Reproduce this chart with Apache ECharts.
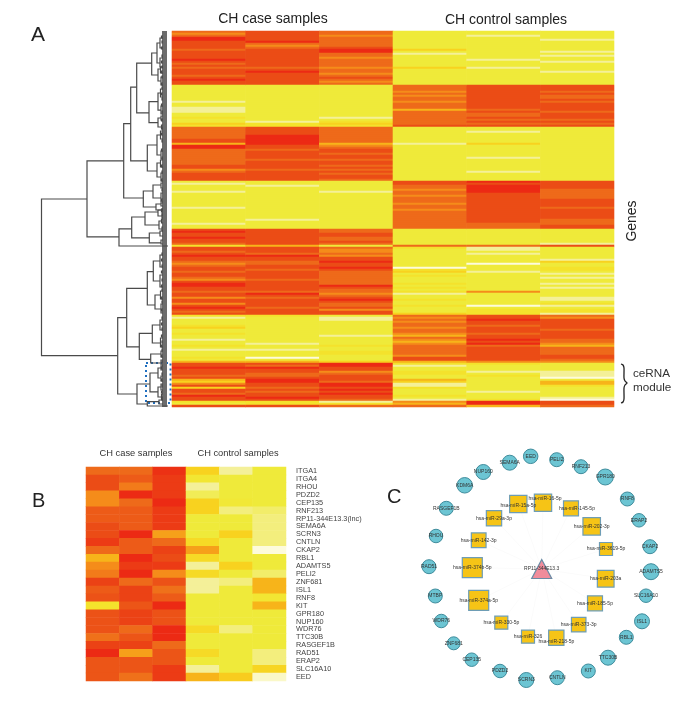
<!DOCTYPE html>
<html>
<head>
<meta charset="utf-8">
<style>
  html, body { margin: 0; padding: 0; background: #fff; }
  #chart { width: 700px; height: 702px; }
  /* the source figure is a soft scan */
  #chart canvas { filter: blur(0.35px); }
</style>
<script src="https://cdn.jsdelivr.net/npm/echarts@6/dist/echarts.min.js"></script>
</head>
<body>
<div id="chart"></div>
<script>
// expression levels 0 (palest) .. 9 (red), one value per gene row, top to bottom
const caseA1 = [7,6,7,9,9,8,8,8,8,7,8,8,8,8,9,8,7,8,7,8,8,8,7,8,9,8,8,
  2,2,2,2,2,2,2,2,1,2,2,1,1,1,2,2,3,2,2,4,3,
  7,7,7,7,7,7,8,8,5,9,9,7,7,7,7,7,7,7,7,8,8,6,7,8,8,8,8,
  2,1,2,2,2,1,2,2,2,2,2,2,2,1,2,2,2,2,2,2,2,1,2,2,
  8,9,8,8,9,8,8,7, 3,
  8,8,7,8,9,8,8,7,6,7,8,8,7,8,8,7,6,8,9,9,8,8,7,8,8,6,8,8,6,8,9,8,7,8,
  3,1,2,2,2,3,4,2,2,3,2,2,1,2,2,3,2,1,2,2,2,3,2,5,
  8,8,9,8,8,8,7,8,5,4,6,8,4,8,8,7,9,8,8,
  3,2,8]
const caseA2 = [8,8,8,8,8,9,7,6,7,8,8,8,8,8,8,8,8,8,7,8,9,8,8,8,8,8,8,
  2,2,2,2,2,2,2,2,2,2,2,2,2,2,2,2,2,2,1,3,3,
  8,8,8,8,9,9,9,9,9,8,8,7,8,8,8,8,7,8,8,8,8,7,8,8,8,8,8,
  2,2,1,2,2,2,2,2,2,2,2,2,2,2,2,2,2,2,2,1,2,2,2,2,
  8,8,8,8,8,8,8,8, 5,
  8,8,8,7,9,8,8,7,7,8,8,7,8,8,8,8,7,8,8,8,8,8,7,9,8,7,8,8,8,8,7,8,8,8,
  3,2,2,2,2,2,2,2,2,2,2,2,2,2,1,2,2,1,2,2,2,0,2,5,
  8,7,9,8,8,7,7,8,9,9,8,8,7,8,7,8,8,9,8,
  3,3,8]
const caseA3 = [7,7,6,7,7,7,7,7,8,9,9,7,7,6,7,7,7,7,6,7,7,6,7,8,7,6,7,
  2,2,2,2,2,2,2,2,2,2,2,2,2,2,2,2,1,2,3,4,3,
  7,7,7,7,7,7,7,7,5,6,7,8,8,7,8,8,7,8,8,7,8,7,8,7,8,8,7,
  2,2,2,2,2,1,2,2,2,2,2,2,2,2,2,2,2,2,2,2,2,2,2,2,
  7,7,8,8,7,7,8,7, 2,
  7,6,6,7,6,8,8,9,8,8,9,8,7,7,7,7,7,7,7,9,8,7,7,6,7,8,9,8,7,7,8,6,8,8,
  2,1,1,2,2,2,2,2,2,2,1,2,2,2,2,3,2,2,3,3,2,2,2,4,
  9,9,8,8,6,7,8,8,8,7,9,9,8,9,8,9,8,8,7,
  1,3,7]
const controlA1 = [2,2,2,2,2,2,2,2,2,4,2,1,2,2,2,2,2,2,4,2,2,2,2,2,2,2,2,
  7,7,7,6,7,6,7,7,6,7,7,7,5,7,7,7,7,7,7,7,8,
  2,2,2,2,2,2,2,2,1,2,2,2,2,2,2,2,2,2,2,2,2,2,2,2,2,2,2,
  8,8,7,7,6,7,7,6,7,7,7,6,7,7,6,7,7,7,7,7,7,7,7,7,
  2,2,2,2,2,2,2,2, 7,
  3,2,2,2,2,2,2,2,2,2,0,3,4,2,3,2,2,2,3,2,3,2,3,1,2,2,3,2,2,3,2,2,2,4,
  7,6,7,6,7,7,6,7,7,6,5,7,6,5,6,7,7,7,7,7,6,8,8,5,
  3,1,2,2,3,3,2,2,5,4,1,1,3,2,2,2,3,2,1,
  6,5,7]
const controlA2 = [2,2,1,2,2,2,2,2,2,2,2,2,2,2,1,2,2,2,1,2,2,2,2,2,2,2,2,
  8,8,8,8,8,8,8,8,8,8,8,8,7,8,7,7,8,7,8,7,8,
  2,2,1,2,2,2,2,2,4,2,2,2,2,2,2,1,2,2,2,2,2,2,1,2,2,2,2,
  9,8,9,9,9,9,8,8,8,8,8,8,8,8,8,8,8,8,8,8,8,7,7,7,
  2,2,2,2,2,2,2,2, 7,
  1,1,2,1,2,2,2,2,0,2,2,2,1,2,2,2,2,2,2,2,2,2,6,2,2,2,2,2,2,0,2,3,3,3,
  8,8,9,8,8,7,8,8,8,7,8,8,9,8,9,7,8,8,8,8,8,8,8,6,
  3,2,2,2,1,2,3,2,2,2,2,2,2,2,1,2,2,2,3,
  9,9,5]
const controlA3 = [2,2,2,2,1,2,2,2,2,2,1,2,1,2,2,1,2,2,2,2,1,2,2,2,2,2,2,
  8,8,8,7,8,7,7,8,7,8,8,8,8,7,8,8,8,7,8,7,8,
  2,2,2,2,2,2,2,2,2,2,2,2,2,2,2,2,2,2,2,2,2,2,2,2,2,2,2,
  8,8,8,8,7,7,7,7,7,8,8,8,8,7,8,8,8,8,8,7,7,7,8,8,
  2,2,2,2,2,2,2,1, 8,
  2,2,2,2,2,2,1,4,2,2,3,3,2,1,2,1,2,2,1,2,1,2,2,2,2,1,1,2,3,1,2,3,3,1,
  7,6,8,8,8,8,8,7,8,8,8,8,7,7,6,5,7,7,7,7,8,8,7,6,
  2,2,2,2,1,1,1,0,2,5,5,3,2,2,2,2,2,1,0,
  8,8,7]

// dendrogram merges: [height, rowA, childHeightA, rowB, childHeightB]
const dendroMerges = [
  [126.5,84,81,162.3,50.3],
  [81,64.9,44.3,102.9,49],
  [44.3,46.3,37.3,83.5,24.7],
  [37.3,28.1,31.3,64.9,20.7],
  [31.3,16.1,16.3,40.9,19],
  [16.3,11,11,22,10],
  [11,6,8,16,8],[10,19,7.5,25,7],
  [8,3.5,5,8.5,5],[8,13.5,5,18,5],[7.5,18,5,21,5],[7,23,5,27,5],
  [19,35.3,10,45.8,10],
  [10,31,7.5,39.6,7],[7.5,29,5,33,5],[7,37.5,5,41.5,5],
  [10,43.5,7,48,6.5],[7,42.5,5,44.5,5],[6.5,47,5,49,5],
  [20.7,57,11,70,11],
  [11,52,7.5,62,7],[7.5,50,5,54,5],[7,60,5,64,5],
  [11,66,7.5,73,7],[7.5,64.5,5,68,5],[7,71,5,75,5],
  [24.7,80,15,88,12],
  [15,77,7,83.5,7],[7,76,5,78.5,5],[7,81,5,85.5,5],
  [12,86.5,7,89.5,6],[7,86,5,87.5,5],[6,89,5,90,5],
  [49,98.9,36.3,107.5,26],
  [26,107.5,0,107.5,0],
  [36.3,93,23,103.4,18.7],
  [23,90.5,10,97,9],
  [10,89.5,6.5,92.5,6],[9,95,6.5,99,6],[6.5,89,5,90.5,5],[6,92,5,93.5,5],[6.5,94,5,96,5],[6,98,5,100,5],
  [18.7,101,8,105.9,7],
  [8,100,5,102.5,5],[7,104.5,5,106.5,5],
  [50.3,143.3,41.3,181.5,31],
  [41.3,128.7,20.7,157.9,28.7],
  [20.7,120.3,14.7,137,13],
  [14.7,115,8,125,8],[13,132,7.5,139,7],
  [8,112,5,118,5],[8,122,5,128,5],[7.5,130,5,134,5],[7,136.5,5,141,5],
  [28.7,151.2,15.7,164.2,17.3],
  [15.7,147,8,156,7.5],[17.3,161.5,7,166,7],
  [8,144.5,5,149.5,5],[7.5,153.5,5,158,5],[7,160,5,163,5],[7,164.5,5,167,5],
  [31,176.5,18,186.5,20.7],
  [18,171,10,180.4,10],[10,168.5,7,173.5,7],[10,178,7,183,6.5],
  [7,167.5,5,169.5,5],[7,172.5,5,175,5],[7,176.5,5,179.5,5],[6.5,181.5,5,184.5,5],
  [20.7,185.3,9,187.5,8],[9,184.5,5,186.5,5],[8,187.5,0,187.5,0],
  // smallest twigs close to the leaves
  [6.5,2.5,5,3.5,5],[6,5,5,6,5],[6.5,8,5,9,5],[6,12,5,13,5],[6.5,15,5,16,5],[6,17.5,5,18.5,5],[6.5,20,5,21,5],[6,22.5,5,23.5,5],[6.5,26,5,27,5],
  [6,28,5,29,5],[6.5,31,5,32,5],[6,33.5,5,34.5,5],[6.5,36.5,5,37.5,5],[6,40,5,41,5],[6.5,44,5,45,5],
  [6,48,5,49,5],[6.5,51,5,52,5],[6,54.5,5,55.5,5],[6.5,59,5,60,5],[6,63,5,64,5],[6.5,67,5,68,5],[6,70,5,71,5],[6.5,74,5,75,5],
  [6,79,5,80,5],[6.5,84,5,85,5],[6,91,5,92,5],
  [6,111,5,112,5],[6.5,114,5,115,5],[6,117,5,118,5],[6.5,120,5,121,5],[6,124,5,125,5],[6.5,127,5,128,5],[6,129,5,130,5],[6.5,133,5,134,5],[6,135,5,136,5],[6.5,139,5,140,5],
  [6,143,5,144,5],[6.5,146,5,147,5],[6,148.5,5,149.5,5],[6.5,152,5,153,5],[6,155,5,156,5],[6.5,157,5,158,5],[6,159,5,160,5],[6.5,162,5,163,5],[6,165,5,166,5],
  [6.5,168,5,169,5],[6,171,5,172,5],[6.5,174,5,175,5],[6,177,5,178,5],[6.5,180,5,181,5],[6,183,5,184,5]
]

// panel B
const moduleGenes = ['ITGA1','ITGA4','RHOU','PDZD2','CEP135','RNF213','RP11-344E13.3(lnc)','SEMA6A','SCRN3','CNTLN','CKAP2','RBL1','ADAMTS5','PELI2','ZNF681','ISL1','RNF8','KIT','GPR180','NUP160','WDR76','TTC30B','RASGEF1B','RAD51','ERAP2','SLC16A10','EED']
const caseB1 = [7,8,8,6,6,7.5,7.5,8,8,8.5,7,5,6,6.5,8.3,7.5,7.8,3,7.8,7.8,7.8,6.8,8.3,9.2,7.7,7.7,7.7]
const caseB2 = [7,7.5,6.5,9,7,7.5,7.5,7.5,9,7.5,7.5,9,8.5,9,7,8.3,8.3,7.7,8.3,8.3,7,7.7,8.3,5.5,7.7,7.7,6.8]
const caseB3 = [8.8,8.5,8.5,8.5,9.5,8.5,8.5,8.5,5.5,7,8.3,8,8.5,6,7.8,6.8,7.5,9.5,7.8,7.8,9,9,7,7.7,7.7,8.5,8.5]
const controlB1 = [4,2.5,1,1.7,4,4,2,2,2,3.5,5.5,3.5,1,3.5,1,1,2,2,2,2,3.5,2,2,3.5,2,1,5]
const controlB2 = [1,2,2,2,2.3,1.3,2,2,4,2,2,2,4,2,1.3,2,2,2,2,2,1.3,2,2,2,2,2,4.2]
const controlB3 = [2,2,2,2,2,1.5,1.3,1.3,1.3,1.3,0,2,2,1.5,5,5,2.5,5,2,2,2,2,2,1.3,1.3,3.8,0.3]

// panel C network, layout positions
const geneNames = ['EED','PELI2','SEMA6A','RNF213','NUP160','GPR180','KDM6A','RNF8','RASGEF1B','ERAP2','RHOU','CKAP2','RAD51','ADAMTS5','MTBP','SLC16A10','WDR76','ISL1','ZNF681','RBL1','CEP135','TTC30B','PDZD2','KIT','SCRN3','CNTLN']
const geneX = [530.7,556.7,509.7,581,483.3,605.3,464.7,627.3,446.3,639,436,650,429,651,435.3,646,441.3,642,453.7,626.3,471.7,608,500,588.3,526.3,557.3]
const geneY = [456.3,459.7,462.7,466.7,472,477,485.3,499,508.3,520.3,536,546.7,566.7,571.7,596,595.7,621,621.3,643.3,637.3,659.7,657.7,671,671,680,677.7]
const geneSize = [14.5,14,15,14,15,16,15.5,14,14,13.5,13.5,14,14,16,14,13.5,13.5,15,13,14,13.5,15,13.5,14,15,14]
const mirNames = ['hsa-miR-16-5p','hsa-miR-15a-5p','hsa-miR-145-5p','hsa-miR-29a-3p','hsa-miR-202-3p','hsa-miR-142-3p','hsa-miR-3619-5p','hsa-miR-374b-5p','hsa-miR-203a','hsa-miR-185-5p','hsa-miR-374a-5p','hsa-miR-330-5p','hsa-miR-373-3p','hsa-miR-326','hsa-miR-218-5p']
const mirX = [543,518.3,571,494,591.7,478.7,606,472.3,605.7,595,478.7,501.3,578.7,528,556.3]
const mirY = [502.7,504,508.3,518.3,526.3,540.3,549,567.7,578.7,603.3,600.3,622.7,624.7,636.7,637.7]
const mirSize = [17.3,17.3,15,15.3,17.5,14.7,13,20,16.7,15,20,13,14.5,13,15.3]
const mirLabelDx = [2,0,6,0,0,0,0,0,0,0,0,0,0,0,0]
const mirLabelDy = [-4,1.5,0,0,0,0,0,0,0,0,0,0,0,0,3.5]
const hubName = 'RP11-344E13.3'
const hubX = [541.7]
const hubY = [569]

const fontName = '"Liberation Sans", Arial, sans-serif'
const levelColors = ['#fdfbdc','#f4f099','#efea3a','#f4e22c','#f8d21f','#f7b41a','#f58c1a','#ee6a1a','#eb4c16','#ec2a14']

const toCells = (cols) => {
  const cells = []
  cols.forEach((col, c) => col.forEach((v, r) => cells.push([c, r, v])))
  return cells
}

const rowsA = caseA1.map((v, i) => String(i))
const nodes = []
geneNames.forEach((name, i) => nodes.push({
  name,
  value: [geneX[i], geneY[i]],
  symbol: 'circle',
  symbolSize: geneSize[i],
  itemStyle: { color: '#6cc5d3', borderColor: '#3f8c9c', borderWidth: 1 }
}))
mirNames.forEach((name, i) => nodes.push({
  name,
  value: [mirX[i], mirY[i]],
  symbol: 'rect',
  symbolSize: mirSize[i],
  itemStyle: { color: '#f6c416', borderColor: '#6e9db5', borderWidth: 1.2 },
  label: { offset: [mirLabelDx[i], mirLabelDy[i]] }
}))
nodes.push({
  name: hubName,
  value: [hubX[0], hubY[0]],
  symbol: 'triangle',
  symbolSize: [20, 19],
  itemStyle: { color: '#f08c9b', borderColor: '#6a8ba5', borderWidth: 1.2 }
})
const links = mirNames.map((name) => ({ source: hubName, target: name }))

const hiddenAxis = (extra) => Object.assign({ show: false }, extra)

const option = {
  animation: false,
  backgroundColor: '#fff',
  textStyle: { fontFamily: fontName },
  grid: [
    { left: 172, top: 31, width: 442, height: 376 },
    { left: 40, top: 31, width: 128, height: 376 },
    { left: 86, top: 467, width: 200, height: 214 },
    { left: 400, top: 440, width: 280, height: 260 }
  ],
  xAxis: [
    hiddenAxis({ type: 'category', gridIndex: 0, data: ['c1','c2','c3','n1','n2','n3'] }),
    hiddenAxis({ type: 'value', gridIndex: 1, min: 0, max: 128, inverse: true }),
    hiddenAxis({ type: 'category', gridIndex: 2, data: ['c1','c2','c3','n1','n2','n3'] }),
    hiddenAxis({ type: 'value', gridIndex: 3, min: 400, max: 680 })
  ],
  yAxis: [
    hiddenAxis({ type: 'category', gridIndex: 0, data: rowsA, inverse: true }),
    hiddenAxis({ type: 'value', gridIndex: 1, min: 0, max: 188, inverse: true }),
    {
      type: 'category',
      gridIndex: 2,
      data: moduleGenes,
      inverse: true,
      position: 'right',
      axisLine: { show: false },
      axisTick: { show: false },
      axisLabel: { fontSize: 7.3, color: '#444', margin: 10, interval: 0, fontFamily: fontName }
    },
    hiddenAxis({ type: 'value', gridIndex: 3, min: 440, max: 700, inverse: true })
  ],
  visualMap: {
    show: false,
    min: 0,
    max: 9,
    seriesIndex: [0, 3],
    inRange: { color: levelColors }
  },
  series: [
    {
      type: 'heatmap',
      xAxisIndex: 0,
      yAxisIndex: 0,
      data: toCells([caseA1, caseA2, caseA3, controlA1, controlA2, controlA3]),
      progressive: 0
    },
    {
      // leaf strip of the dendrogram, one line per gene row
      type: 'custom',
      xAxisIndex: 1,
      yAxisIndex: 1,
      data: rowsA.map((r) => [Number(r) + 0.5]),
      encode: { y: 0 },
      clip: false,
      renderItem: (params, api) => {
        const a = api.coord([6, api.value(0)])
        const b = api.coord([1, api.value(0)])
        return { type: 'line', shape: { x1: a[0], y1: a[1], x2: b[0], y2: b[1] }, style: { stroke: '#6c6c6c', lineWidth: 2 } }
      }
    },
    {
      type: 'custom',
      xAxisIndex: 1,
      yAxisIndex: 1,
      data: dendroMerges,
      encode: { x: [0, 2, 4], y: [1, 3] },
      clip: false,
      renderItem: (params, api) => {
        const pts = [
          api.coord([api.value(2), api.value(1)]),
          api.coord([api.value(0), api.value(1)]),
          api.coord([api.value(0), api.value(3)]),
          api.coord([api.value(4), api.value(3)])
        ]
        return { type: 'polyline', shape: { points: pts }, style: { stroke: '#4a4a4a', lineWidth: 1.2, fill: null } }
      }
    },
    {
      type: 'heatmap',
      xAxisIndex: 2,
      yAxisIndex: 2,
      data: toCells([caseB1, caseB2, caseB3, controlB1, controlB2, controlB3]),
      progressive: 0
    },
    {
      type: 'graph',
      coordinateSystem: 'cartesian2d',
      xAxisIndex: 3,
      yAxisIndex: 3,
      layout: 'none',
      data: nodes,
      links,
      lineStyle: { color: '#f6f6f6', width: 0.5, opacity: 1 },
      label: { show: true, position: 'inside', fontSize: 5, color: '#333', fontFamily: fontName },
      emphasis: { disabled: true }
    }
  ],
  graphic: [
    { type: 'text', x: 31, y: 35.5, style: { text: 'A', font: '21px ' + fontName, fill: '#222', verticalAlign: 'middle' } },
    { type: 'text', x: 32, y: 501, style: { text: 'B', font: '20px ' + fontName, fill: '#222', verticalAlign: 'middle' } },
    { type: 'text', x: 387, y: 497, style: { text: 'C', font: '20px ' + fontName, fill: '#222', verticalAlign: 'middle' } },
    { type: 'text', x: 273, y: 19, style: { text: 'CH case samples', font: '14px ' + fontName, fill: '#222', align: 'center', verticalAlign: 'middle' } },
    { type: 'text', x: 506, y: 20, style: { text: 'CH control samples', font: '14px ' + fontName, fill: '#222', align: 'center', verticalAlign: 'middle' } },
    { type: 'text', x: 136, y: 453, style: { text: 'CH case samples', font: '9.3px ' + fontName, fill: '#333', align: 'center', verticalAlign: 'middle' } },
    { type: 'text', x: 238, y: 453.5, style: { text: 'CH control samples', font: '9.3px ' + fontName, fill: '#333', align: 'center', verticalAlign: 'middle' } },
    { type: 'text', x: 632, y: 221, rotation: Math.PI / 2, style: { text: 'Genes', font: '14px ' + fontName, fill: '#222', align: 'center', verticalAlign: 'middle' } },
    { type: 'text', x: 633, y: 374, style: { text: 'ceRNA', font: '11.7px ' + fontName, fill: '#333', verticalAlign: 'middle' } },
    { type: 'text', x: 633, y: 388, style: { text: 'module', font: '11.7px ' + fontName, fill: '#333', verticalAlign: 'middle' } },
    {
      // curly brace next to the ceRNA module rows
      type: 'polyline',
      shape: { points: [[621,364],[623,365],[624,368],[624,378],[625,381],[627,383],[625,385],[624,388],[624,399],[623,402],[621,403]], smooth: 0.3 },
      style: { stroke: '#222', lineWidth: 1.3, fill: null }
    },
    {
      type: 'rect',
      shape: { x: 146, y: 363, width: 24.5, height: 40 },
      style: { stroke: '#1f6fc0', lineWidth: 2, lineDash: [2, 3], fill: null }
    }
  ]
}

const chart = echarts.init(document.getElementById('chart'))
chart.setOption(option)
</script>
</body>
</html>
